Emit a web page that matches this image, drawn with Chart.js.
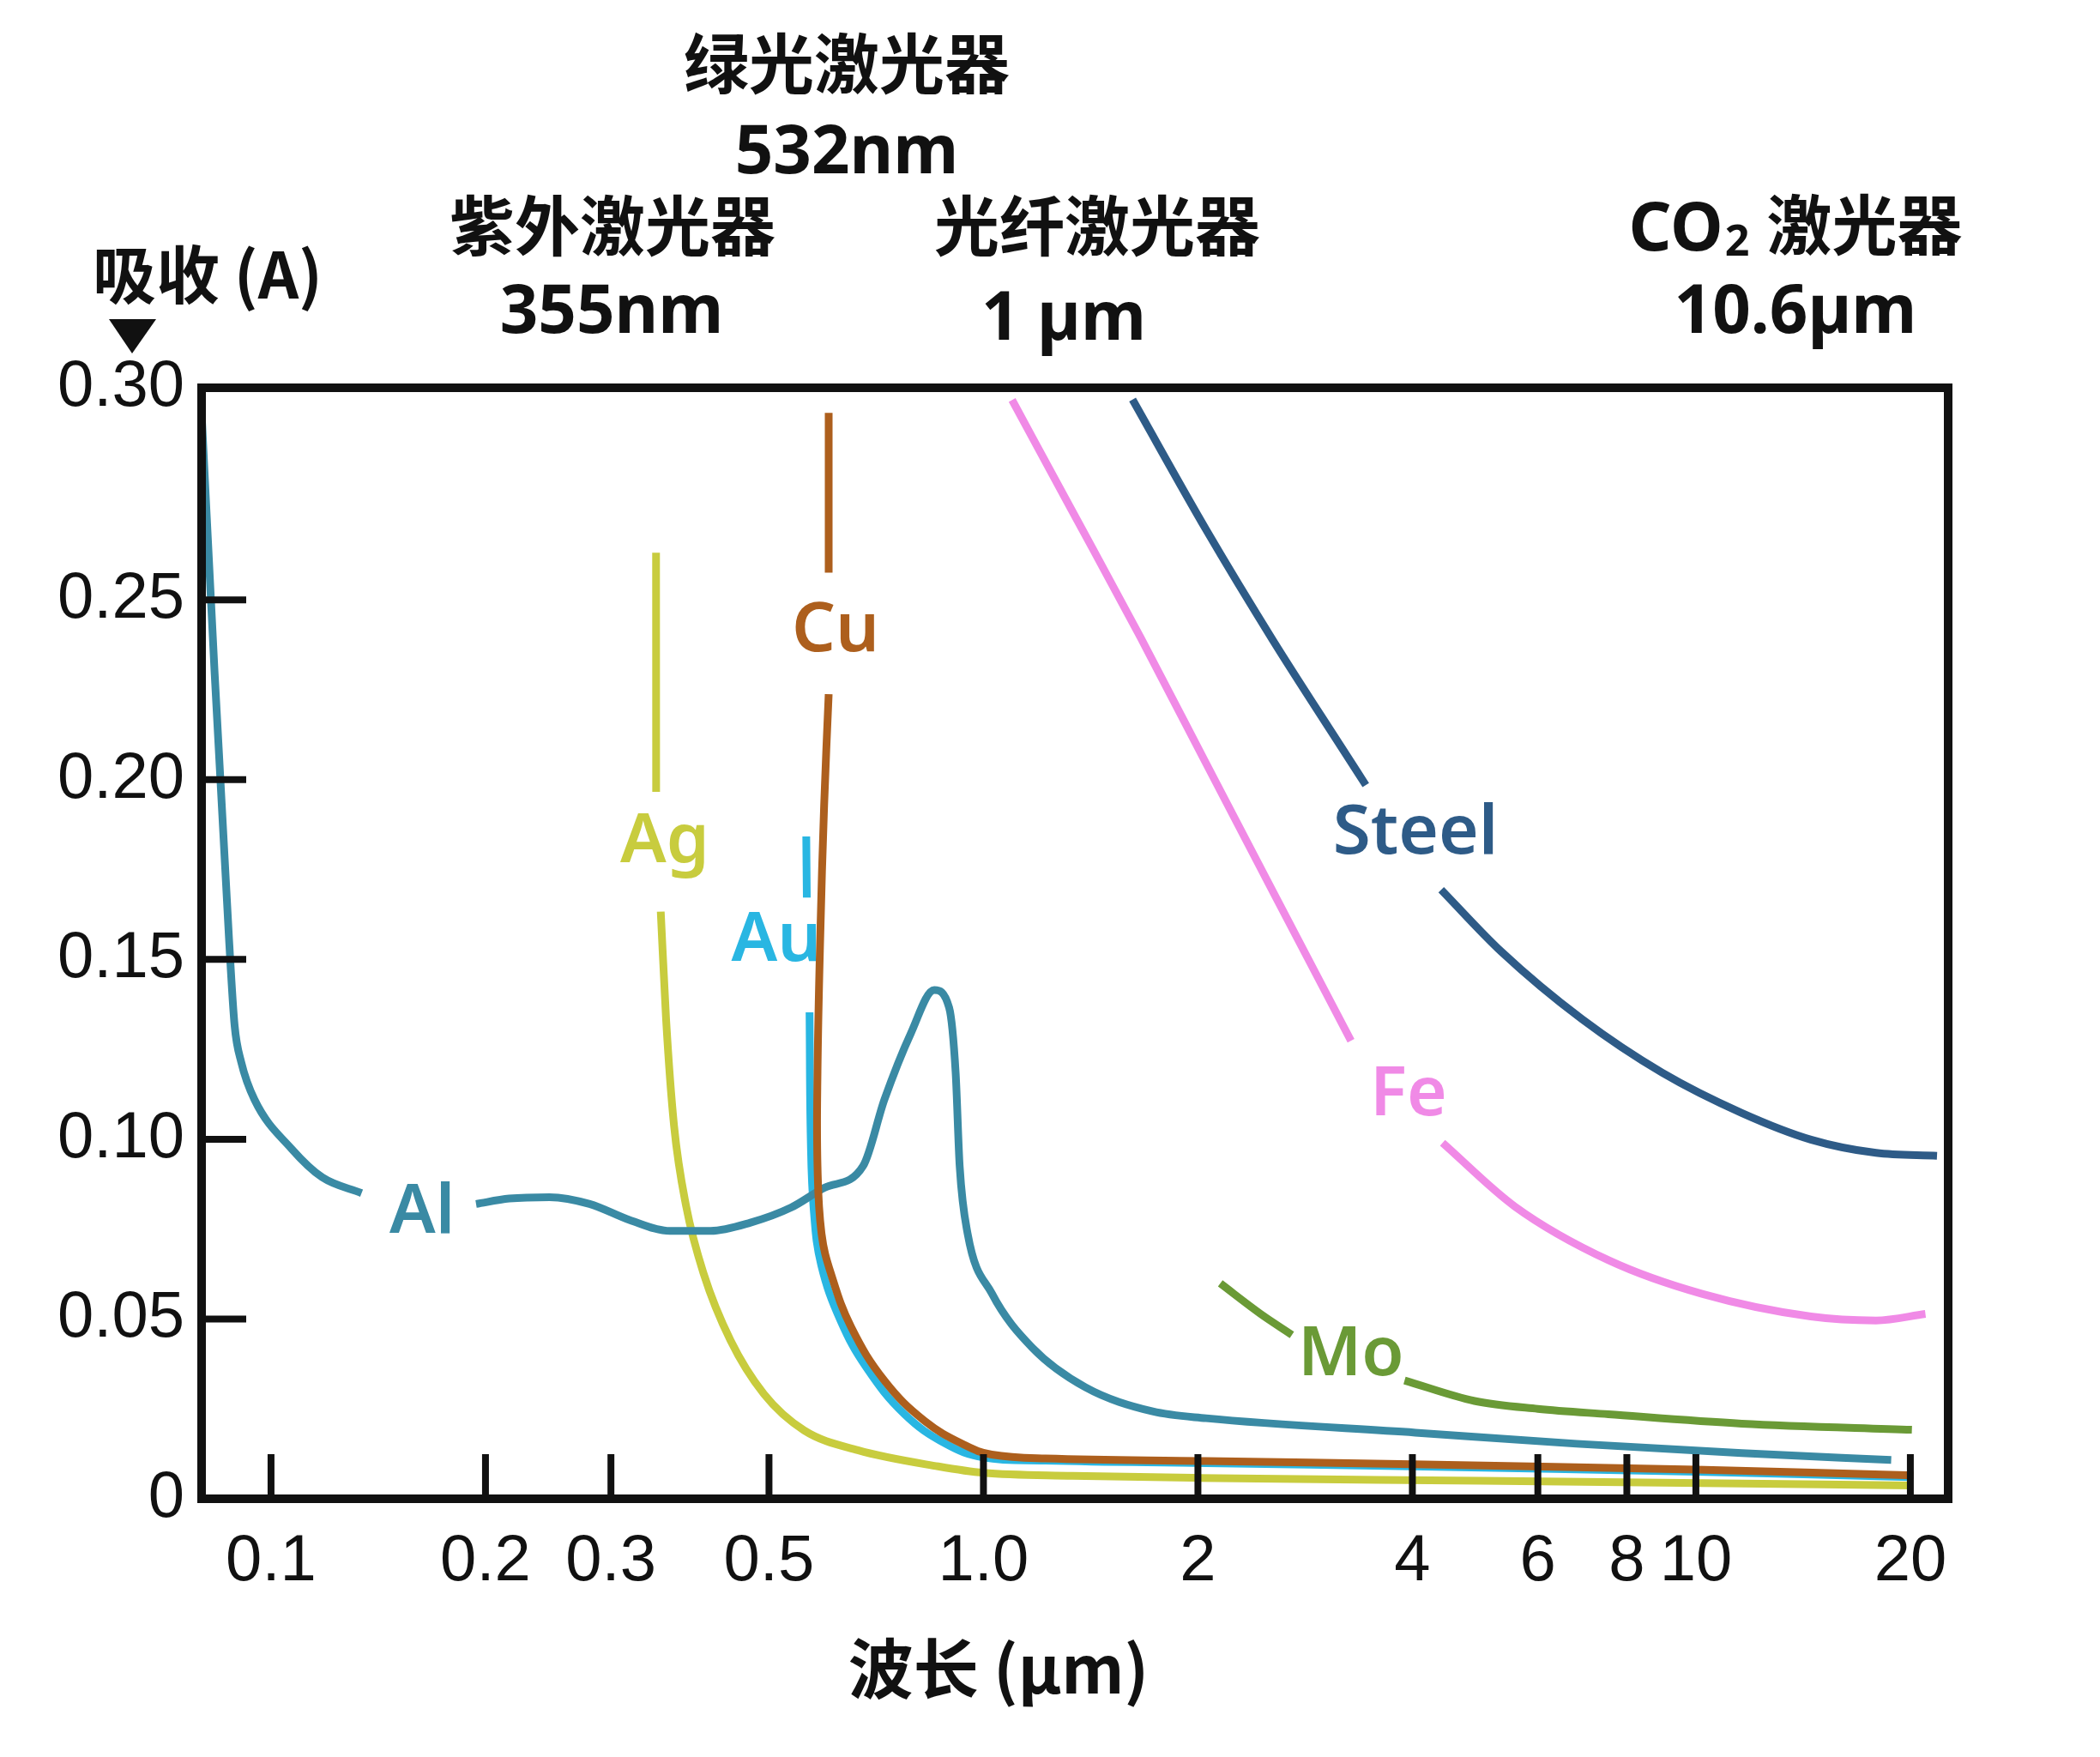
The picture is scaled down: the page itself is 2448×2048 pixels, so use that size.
<!DOCTYPE html>
<html lang="zh">
<head>
<meta charset="utf-8">
<title>金属吸收率与波长</title>
<script src="https://cdn.jsdelivr.net/npm/chart.js@4.4.1/dist/chart.umd.min.js"></script>
<style>
  html, body { margin: 0; padding: 0; background: #fff; }
  canvas { display: block; }
</style>
</head>
<body>
<canvas id="absChart" width="2448" height="2048"></canvas>
<script>
    /* Curve data: wavelength in µm, absorptance A. A null value leaves a gap where the label sits */
    const alWave = [0.0800, 0.0833, 0.0873, 0.0889, 0.0908, 0.0948, 0.1069, 0.118, 0.134, 0.160, 0.194, 0.216, 0.246, 0.280, 0.319, 0.363, 0.414, 0.471, 0.537, 0.598, 0.678, 0.726, 0.791, 0.853, 0.895, 0.914, 0.926, 0.950, 1.0275, 1.17, 1.391, 1.728, 2.054, 4.04, 6.8, 11.6, 18.8];
    const alAbs  = [0.2998, 0.2304, 0.1558, 0.1316, 0.1215, 0.111, 0.0973, 0.0894, 0.085, null, 0.082, 0.0835, 0.0839, 0.082, 0.0775, 0.0745, 0.0745, 0.0768, 0.081, 0.0865, 0.0926, 0.111, 0.1295, 0.1415, 0.1366, 0.1186, 0.0925, 0.0738, 0.0571, 0.0421, 0.031, 0.0243, 0.0224, 0.0184, 0.0153, 0.0127, 0.0108];

    const agWave = [0.3471, 0.3472, 0.349, 0.3524, 0.3585, 0.3679, 0.3826, 0.4048, 0.4416, 0.492, 0.5603, 0.6664, 0.864, 1.0, 1.333, 2.0, 5.0, 20.0];
    const agAbs  = [0.2631, 0.1966, null, 0.1633, 0.1335, 0.1037, 0.0813, 0.0626, 0.0440, 0.0291, 0.0190, 0.0135, 0.0090, 0.0072, 0.0064, 0.0058, 0.0050, 0.0037];

    const auWave = [0.564, 0.565, 0.567, 0.570, 0.5723, 0.578, 0.592, 0.63, 0.685, 0.775, 0.885, 1.0, 1.222, 2.054, 4.0, 10.0, 20.0];
    const auAbs  = [0.1842, 0.1672, null, 0.1353, 0.0999, 0.080, 0.065, 0.0496, 0.0365, 0.0235, 0.0153, 0.0115, 0.0106, 0.0099, 0.0090, 0.0075, 0.0060];

    const cuWave = [0.6064, 0.6064, 0.6064, 0.6064, 0.5976, 0.590, 0.5849, 0.5849, 0.5925, 0.6109, 0.6522, 0.7265, 0.8275, 0.9422, 1.027, 1.222, 2.054, 4.0, 10.0, 20.2];
    const cuAbs  = [0.302, 0.2576, null, 0.2238, 0.1931, 0.1558, 0.1186, 0.0925, 0.0738, 0.0626, 0.0477, 0.0328, 0.0216, 0.0149, 0.0123, 0.0112, 0.0105, 0.0096, 0.0081, 0.0065];

    const steelWave = [1.619, 2.054, 2.552, 3.169, 3.441, 3.9, 4.39, 5.33, 6.92, 8.97, 11.6, 14.5, 17.9, 21.8];
    const steelAbs  = [0.3057, 0.2695, 0.2386, 0.2095, 0.1985, null, 0.1694, 0.1522, 0.1334, 0.1185, 0.1073, 0.0999, 0.0962, 0.0954];

    const feWave = [1.097, 1.33, 1.66, 2.06, 2.55, 3.28, 3.8, 4.41, 5.57, 7.55, 10.2, 14.5, 17.9, 21.0];
    const feAbs  = [0.3056, 0.275, 0.2397, 0.204, 0.1688, 0.1274, null, 0.099, 0.0813, 0.0663, 0.057, 0.0507, 0.0496, 0.0514];

    const moWave = [2.15, 2.45, 2.71, 3.2, 3.9, 4.89, 6.0, 7.54, 11.6, 20.1];
    const moAbs  = [0.0599, 0.0514, 0.0456, null, 0.0329, 0.0272, 0.0250, 0.0235, 0.0209, 0.0192];

    /* Axis ticks */
    const xTickValues = [0.1, 0.2, 0.3, 0.5, 1, 2, 4, 6, 8, 10, 20];
    const xTickLabels = ['0.1', '0.2', '0.3', '0.5', '1.0', '2', '4', '6', '8', '10', '20'];
    const yTickValues = [0, 0.05, 0.10, 0.15, 0.20, 0.25, 0.309];
    const yTickLabels = ['0', '0.05', '0.10', '0.15', '0.20', '0.25', '0.30'];

    /* Curve name labels, placed in data coordinates */
    const curveNames  = ['Al', 'Ag', 'Au', 'Cu', 'Steel', 'Fe', 'Mo'];
    const labelWave   = [0.163, 0.357, 0.512, 0.62, 4.04, 3.95, 3.28];
    const labelAbs    = [0.0794, 0.1825, 0.155, 0.2412, 0.1849, 0.1121, 0.0398];

    const colors = {
        Al: '#3a8aa4', Ag: '#c8cc3e', Au: '#29b6e2', Cu: '#ad5f1d',
        Steel: '#2e5b87', Fe: '#f08ae6', Mo: '#6a9a36'
    };

    function toPoints(xs, ys){
        return xs.map((v, i) => ({x: v, y: ys[i]}));
    }

    // smooth: monotone for curves whose wavelength only grows, bezier for the ones that bend back
    function series(name, xs, ys, order, mono){
        return {
            label: name,
            data: toPoints(xs, ys),
            borderColor: colors[name],
            borderWidth: 9,
            pointRadius: 0,
            tension: 0.4,
            cubicInterpolationMode: mono ? 'monotone' : 'default',
            fill: false,
            spanGaps: false,
            order: order
        };
    }

    const CJK = '"Noto Sans CJK SC", "Noto Sans", sans-serif';
    const LAT = '"Noto Sans", "Open Sans", sans-serif';

    /* Draws the frame, inward ticks, curve labels and the laser notes */
    const notesPlugin = {
        id: 'notes',
        beforeDraw(chart){
            const c = chart.ctx;
            c.save();
            c.fillStyle = '#fff';
            c.fillRect(0, 0, chart.width, chart.height);
            c.restore();
        },
        afterDatasetsDraw(chart){
            const c = chart.ctx;
            const a = chart.chartArea;
            const xs = chart.scales.x, ys = chart.scales.y;
            c.save();

            // tick marks pointing into the plot
            c.strokeStyle = '#111';
            c.lineWidth = 8;
            xTickValues.forEach(v => {
                const px = xs.getPixelForValue(v);
                c.beginPath(); c.moveTo(px, a.bottom); c.lineTo(px, a.bottom - 52); c.stroke();
            });
            yTickValues.slice(1, -1).forEach(v => {
                const py = ys.getPixelForValue(v);
                c.beginPath(); c.moveTo(a.left, py); c.lineTo(a.left + 52, py); c.stroke();
            });

            // frame
            c.lineWidth = 10;
            c.strokeRect(a.left, a.top, a.right - a.left, a.bottom - a.top);

            // curve labels
            c.font = '600 80px ' + LAT;
            c.textAlign = 'center';
            c.textBaseline = 'middle';
            curveNames.forEach((n, i) => {
                c.fillStyle = colors[n];
                c.fillText(n, xs.getPixelForValue(labelWave[i]), ys.getPixelForValue(labelAbs[i]));
            });

            // laser notes above the plot
            c.fillStyle = '#111';
            c.font = 'bold 76px ' + CJK;
            c.fillText('绿光激光器', 987, 74);
            c.fillText('紫外激光器', 714, 263);
            c.fillText('光纤激光器', 1279, 263);

            c.textBaseline = 'alphabetic';
            c.font = 'bold 78px ' + LAT;
            c.fillText('532nm', 987, 202);
            c.fillText('355nm', 713, 388);
            c.fillText('1 µm', 1240, 396);
            c.fillText('10.6µm', 2093, 388);

            // CO2 with a small subscript
            const big = 'bold 78px ' + LAT, small = 'bold 50px ' + LAT, cj = 'bold 76px ' + CJK;
            c.font = big; const w1 = c.measureText('CO').width;
            c.font = small; const w2 = c.measureText('2').width;
            c.font = cj; const w3 = c.measureText('激光器').width;
            const gap = 22;
            let sx = 2093 - (w1 + w2 + gap + w3) / 2;
            c.textAlign = 'left';
            c.font = big; c.fillText('CO', sx, 292);
            c.font = small; c.fillText('2', sx + w1 + 2, 298);
            c.font = cj; c.textBaseline = 'middle';
            c.fillText('激光器', sx + w1 + w2 + gap, 262);

            // axis titles
            c.textAlign = 'center';
            c.font = 'bold 74px ' + CJK;
            c.fillText('吸收 (A)', 242, 320);
            c.font = 'bold 76px ' + CJK;
            c.fillText('波长 (µm)', 1164, 1945);

            // arrow under the y title
            c.beginPath();
            c.moveTo(127, 372); c.lineTo(182, 372); c.lineTo(154, 412); c.closePath();
            c.fill();

            c.restore();
        }
    };

    function makeChart(){
        const ctx = document.getElementById('absChart').getContext('2d');
        new Chart(ctx, {
            type: 'line',
            data: {
                datasets: [
                    series('Cu', cuWave, cuAbs, 0, false),
                    series('Al', alWave, alAbs, 1, true),
                    series('Au', auWave, auAbs, 2, false),
                    series('Ag', agWave, agAbs, 3, true),
                    series('Mo', moWave, moAbs, 4, true),
                    series('Fe', feWave, feAbs, 5, true),
                    series('Steel', steelWave, steelAbs, 6, true)
                ]
            },
            options: {
                responsive: false,
                animation: false,
                devicePixelRatio: 1,
                layout: { padding: { top: 452, right: 177, bottom: 0, left: 0 } },
                plugins: {
                    legend: { display: false },
                    tooltip: { enabled: false },
                    title: { display: false }
                },
                scales: {
                    x: {
                        type: 'logarithmic',
                        min: 0.0799,
                        max: 22.6,
                        grid: { display: false, drawTicks: false },
                        border: { display: false },
                        afterBuildTicks: s => { s.ticks = xTickValues.map(v => ({value: v})); },
                        afterFit: s => { s.height = 301; },
                        ticks: {
                            autoSkip: false,
                            maxRotation: 0,
                            padding: 28,
                            color: '#111',
                            font: { family: '"Liberation Sans", Arial, sans-serif', size: 76 },
                            callback: (v, i) => xTickLabels[i]
                        }
                    },
                    y: {
                        type: 'linear',
                        min: 0,
                        max: 0.309,
                        grid: { display: false, drawTicks: false },
                        border: { display: false },
                        afterBuildTicks: s => { s.ticks = yTickValues.map(v => ({value: v})); },
                        afterFit: s => { s.width = 235; },
                        ticks: {
                            autoSkip: false,
                            padding: 20,
                            color: '#111',
                            font: { family: '"Liberation Sans", Arial, sans-serif', size: 76 },
                            callback: (v, i) => yTickLabels[i]
                        }
                    }
                }
            },
            plugins: [notesPlugin]
        });
    }

    Promise.all([
        document.fonts.load('bold 76px "Noto Sans CJK SC"'),
        document.fonts.load('bold 78px "Noto Sans"'),
        document.fonts.load('600 80px "Noto Sans"'),
        document.fonts.load('76px "Liberation Sans"')
    ]).catch(() => null).then(makeChart);
</script>
</body>
</html>
